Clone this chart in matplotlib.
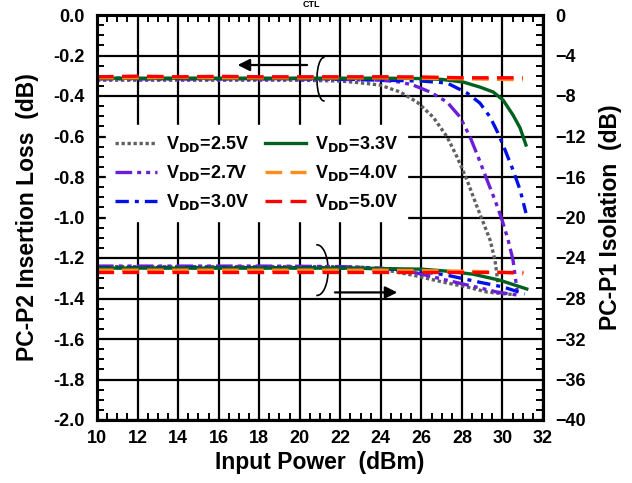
import matplotlib
matplotlib.use('Agg')
import matplotlib.pyplot as plt
from matplotlib.patches import Arc
from matplotlib.ticker import MultipleLocator

plt.rcParams['font.family'] = ['Liberation Sans', 'DejaVu Sans']
plt.rcParams['font.weight'] = 'bold'
plt.rcParams['mathtext.default'] = 'bf'

# Insertion loss (left axis, dB) #
il_25_x = [10, 12, 14, 16, 18, 20, 22, 23, 23.96, 24.95, 25.79, 26.58, 27.27, 27.76, 28.25, 28.75, 29.14, 29.39, 29.63, 29.78]
il_25_y = [-0.322, -0.322, -0.322, -0.322, -0.322, -0.322, -0.326, -0.335, -0.346, -0.38, -0.43, -0.504, -0.602, -0.701,
           -0.815, -0.948, -1.047, -1.111, -1.21, -1.323]
il_27_x = [10, 12, 14, 16, 18, 20, 22, 24, 24.95, 25.59, 26.43, 27.27, 27.91, 28.4, 28.8, 29.24, 29.63, 29.98, 30.28, 30.52, 30.72]
il_27_y = [-0.316, -0.316, -0.316, -0.316, -0.316, -0.316, -0.318, -0.322, -0.331, -0.346, -0.38, -0.43, -0.504, -0.602,
           -0.701, -0.815, -0.914, -1.012, -1.111, -1.21, -1.358]
il_30_x = [10, 12, 14, 16, 18, 20, 22, 24, 26, 27.27, 28.25, 28.89, 29.39, 29.78, 30.13, 30.52, 30.87, 31.16]
il_30_y = [-0.31, -0.314, -0.314, -0.314, -0.314, -0.314, -0.316, -0.322, -0.326, -0.336, -0.385, -0.435, -0.504, -0.583,
           -0.667, -0.765, -0.864, -0.978]
il_33_x = [10, 12, 14, 16, 18, 20, 22, 24, 26, 27, 28.06, 28.89, 29.54, 30.03, 30.52, 30.87, 31.16]
il_33_y = [-0.312, -0.312, -0.312, -0.312, -0.312, -0.312, -0.312, -0.312, -0.314, -0.318, -0.331, -0.356, -0.38, -0.42,
           -0.494, -0.558, -0.642]
il_40_x = [10, 12, 14, 16, 18, 20, 22, 24, 26, 28, 30, 31]
il_40_y = [-0.31, -0.31, -0.308, -0.31, -0.31, -0.31, -0.31, -0.31, -0.312, -0.315, -0.318, -0.32]
il_50_x = [10, 12, 14, 16, 18, 20, 22, 24, 26, 28, 30, 31]
il_50_y = [-0.305, -0.302, -0.305, -0.303, -0.305, -0.305, -0.305, -0.305, -0.306, -0.31, -0.31, -0.31]

# Isolation (right axis, dB) #
iso_25_x = [10, 12, 14, 16, 18, 20, 22, 23, 24, 25.59, 27.27, 28.25, 29.24, 29.88, 30.5]
iso_25_y = [-24.85, -24.85, -24.85, -24.85, -24.85, -24.85, -24.85, -24.9, -25.1, -25.7, -26.47, -26.86, -27.36, -27.5, -27.6]
iso_27_x = [10, 12, 14, 16, 18, 20, 22, 23.96, 25.6, 27.27, 28.89, 29.73, 30.72]
iso_27_y = [-24.8, -24.8, -24.8, -24.8, -24.8, -24.82, -24.85, -24.99, -25.4, -26.2, -26.96, -27.36, -27.65]
iso_30_x = [10, 12, 14, 16, 18, 20, 22, 24, 25.6, 27.27, 28.89, 30.03, 31.1]
iso_30_y = [-24.95, -24.95, -24.95, -24.95, -24.95, -24.95, -24.98, -25.05, -25.2, -25.7, -26.4, -26.86, -27.55]
iso_33_x = [10, 12, 14, 16, 18, 20, 22, 24, 26, 27.27, 28.55, 29.88, 31.2]
iso_33_y = [-25.0, -25.0, -25.0, -25.0, -25.0, -25.0, -25.0, -25.05, -25.1, -25.3, -25.6, -26.2, -27.06]
iso_40_x = [10, 12, 14, 16, 18, 20, 22, 24, 26, 28, 30, 31]
iso_40_y = [-25.2, -25.2, -25.2, -25.2, -25.2, -25.2, -25.2, -25.2, -25.25, -25.3, -25.4, -25.6]
iso_50_x = [10, 12, 14, 16, 18, 20, 22, 24, 26, 28, 30, 31]
iso_50_y = [-25.35, -25.35, -25.35, -25.35, -25.35, -25.35, -25.35, -25.35, -25.35, -25.35, -25.35, -25.35]

labels = ['V$_{DD}$=2.5V', 'V$_{DD}$=2.7V', 'V$_{DD}$=3.0V',
          'V$_{DD}$=3.3V', 'V$_{DD}$=4.0V', 'V$_{DD}$=5.0V']
colors = ['#606060', '#6a1fd6', '#0010e8', '#00601e', '#ff8c1a', '#ff0000']
dashes = [(1.0, 0.8), (5, 1.5, 1.2, 1.5, 1.2, 1.5), (4, 1.8, 1.2, 1.8), None, (5, 2.5), (5, 2.5)]

il_x = [il_25_x, il_27_x, il_30_x, il_33_x, il_40_x, il_50_x]
il_y = [il_25_y, il_27_y, il_30_y, il_33_y, il_40_y, il_50_y]
iso_x = [iso_25_x, iso_27_x, iso_30_x, iso_33_x, iso_40_x, iso_50_x]
iso_y = [iso_25_y, iso_27_y, iso_30_y, iso_33_y, iso_40_y, iso_50_y]

fig = plt.figure(figsize=(6.32, 4.83), dpi=100)
ax = fig.add_axes([97 / 632, 1 - 420 / 483, 446 / 632, 405 / 483])
ax2 = ax.twinx()

handles = []
for i in range(6):
    kw = dict(color=colors[i], lw=2.4)
    if dashes[i] is None:
        kw['linestyle'] = '-'
    else:
        kw['dashes'] = dashes[i]
    h, = ax.plot(il_x[i], il_y[i], **kw)
    ax2.plot(iso_x[i], iso_y[i], **kw)
    handles.append(h)

ax.set_xlim(10, 32)
ax.set_ylim(-2.0, 0.0)
ax2.set_ylim(-40, 0)

ax.xaxis.set_major_locator(MultipleLocator(2))
ax.xaxis.set_minor_locator(MultipleLocator(0.5))
ax.yaxis.set_major_locator(MultipleLocator(0.2))
ax.yaxis.set_minor_locator(MultipleLocator(0.05))
ax2.yaxis.set_major_locator(MultipleLocator(4))
ax2.yaxis.set_minor_locator(MultipleLocator(1))

ax.grid(True, which='major', color='black', lw=1.6)
ax.set_yticks([-2.0, -1.8, -1.6, -1.4, -1.2, -1.0, -0.8, -0.6, -0.4, -0.2, 0.0])
ax.set_yticklabels(['-2.0', '-1.8', '-1.6', '-1.4', '-1.2', '-1.0', '-0.8', '-0.6', '-0.4', '-0.2', '0.0'])

for a in (ax, ax2):
    for s in a.spines.values():
        s.set_linewidth(2.2)
    a.tick_params(which='both', direction='in', labelsize=13, width=1.4)
    a.tick_params(which='major', length=0, pad=9)
    a.tick_params(which='minor', length=5)
ax.tick_params(axis='x', which='major', pad=7)
ax.tick_params(axis='x', which='both', top=True)
ax.tick_params(axis='y', which='both', right=False)

ax.set_xlabel('Input Power  (dBm)', fontsize=16.5, fontweight='bold', labelpad=3)
ax.set_ylabel('PC-P2 Insertion Loss  (dB)', fontsize=16.5, fontweight='bold', labelpad=10)
ax2.set_ylabel('PC-P1 Isolation  (dB)', fontsize=16.5, fontweight='bold', labelpad=9)

# Direction arrows and grouping ellipses #
ax.annotate('', xy=(16.8, -0.247), xytext=(20.5, -0.247),
            arrowprops=dict(arrowstyle='-|>', color='black', lw=1.6, mutation_scale=18))
ax.annotate('', xy=(24.95, -1.37), xytext=(21.6, -1.37),
            arrowprops=dict(arrowstyle='-|>', color='black', lw=1.6, mutation_scale=18))
ax.add_patch(Arc((21.2, -0.317), 0.7, 0.215, theta1=75, theta2=285, color='black', lw=1.2))
ax.add_patch(Arc((20.85, -1.26), 1.1, 0.25, theta1=-105, theta2=105, color='black', lw=1.2))

leg = ax2.legend(handles, labels, ncol=2, loc='upper left', bbox_to_anchor=(0.0, 0.75),
                 frameon=True, framealpha=1, edgecolor='white', fancybox=False,
                 fontsize=13, handlelength=2.3, columnspacing=0.9, labelspacing=0.5,
                 borderpad=0.5, handletextpad=0.5)
for t in leg.get_texts():
    t.set_fontweight('bold')

fig.text(311 / 632, 1.0, 'CTL', fontsize=6.5, fontweight='bold', ha='center', va='top')

fig.savefig('out.png', dpi=100)
